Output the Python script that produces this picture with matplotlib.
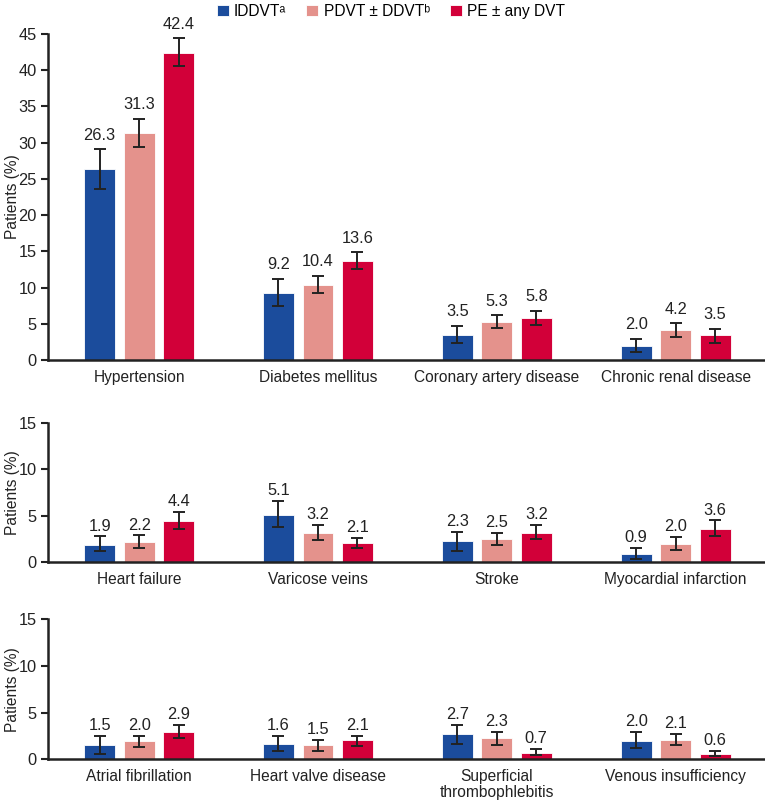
import numpy as np
import matplotlib.pyplot as plt

plt.rcParams['font.family'] = ['Liberation Sans', 'DejaVu Sans']

series_names = ["IDDVTᵃ", "PDVT ± DDVTᵇ", "PE ± any DVT"]
colors = ["#1B4C9C", "#E4928C", "#D20039"]

# panel 1
cats_1 = ["Hypertension", "Diabetes mellitus", "Coronary artery disease", "Chronic renal disease"]
vals_1 = [[26.3, 9.2, 3.5, 2.0], [31.3, 10.4, 5.3, 4.2], [42.4, 13.6, 5.8, 3.5]]
lo_1 = [[23.6, 7.5, 2.4, 1.1], [29.4, 9.2, 4.4, 3.2], [40.6, 12.5, 4.8, 2.4]]
hi_1 = [[29.1, 11.2, 4.7, 2.9], [33.3, 11.6, 6.2, 5.1], [44.4, 14.9, 6.8, 4.3]]

# panel 2
cats_2 = ["Heart failure", "Varicose veins", "Stroke", "Myocardial infarction"]
vals_2 = [[1.9, 5.1, 2.3, 0.9], [2.2, 3.2, 2.5, 2.0], [4.4, 2.1, 3.2, 3.6]]
lo_2 = [[1.2, 3.8, 1.25, 0.4], [1.6, 2.4, 1.9, 1.3], [3.6, 1.5, 2.5, 2.8]]
hi_2 = [[2.8, 6.6, 3.3, 1.6], [2.9, 4.0, 3.2, 2.7], [5.4, 2.6, 4.0, 4.5]]

# panel 3
cats_3 = ["Atrial fibrillation", "Heart valve disease", "Superficial\nthrombophlebitis", "Venous insufficiency"]
vals_3 = [[1.5, 1.6, 2.7, 2.0], [2.0, 1.5, 2.3, 2.1], [2.9, 2.1, 0.7, 0.6]]
lo_3 = [[0.6, 0.9, 1.6, 1.2], [1.35, 0.9, 1.5, 1.5], [2.25, 1.45, 0.4, 0.3]]
hi_3 = [[2.5, 2.5, 3.7, 2.9], [2.5, 2.1, 2.9, 2.7], [3.7, 2.5, 1.1, 0.9]]

fig = plt.figure(figsize=(7.65, 8.0), dpi=100)
ax1 = fig.add_axes([0.0627, 0.55, 0.9373, 0.4075])
ax2 = fig.add_axes([0.0627, 0.297, 0.9373, 0.1746])
ax3 = fig.add_axes([0.0627, 0.051, 0.9373, 0.175])

width = 0.173
offset = 0.221
fs = 11.2
txt = "#222222"

def draw_panel(ax, cats, vals, lo, hi, ymax, step):
    x = np.arange(len(cats))
    for i in range(3):
        v = np.array(vals[i])
        yerr = [v - np.array(lo[i]), np.array(hi[i]) - v]
        pos = x + (i - 1) * offset
        ax.bar(pos, v, width, color=colors[i], edgecolor="white", linewidth=0.6,
               label=series_names[i], zorder=2)
        ax.errorbar(pos, v, yerr=yerr, fmt="none", ecolor=txt, elinewidth=1.4,
                    capsize=4, capthick=1.4, zorder=3)
        for px, val, top in zip(pos, v, hi[i]):
            ax.text(px, top + ymax * 0.02, f"{val:.1f}", ha="center", va="bottom",
                    fontsize=fs + 0.6, color=txt)
    ax.set_xlim(-0.51, 3.5)
    ax.set_ylim(0, ymax)
    ax.set_yticks(np.arange(0, ymax + 0.1, step))
    ax.set_xticks(x)
    ax.set_xticklabels(cats, fontsize=fs, color=txt, va="top", linespacing=1.1)
    ax.tick_params(axis="x", length=0, pad=7)
    ax.tick_params(axis="y", labelsize=fs + 0.6, width=1.5, length=5, colors=txt, pad=3)
    ax.spines["top"].set_visible(False)
    ax.spines["right"].set_visible(False)
    for side in ["left", "bottom"]:
        ax.spines[side].set_linewidth(1.8)
        ax.spines[side].set_color(txt)
    ax.set_ylabel("Patients (%)", fontsize=fs, color=txt)
    ax.yaxis.set_label_coords(-0.039, 0.5)

draw_panel(ax1, cats_1, vals_1, lo_1, hi_1, 45, 5)
draw_panel(ax2, cats_2, vals_2, lo_2, hi_2, 15, 5)
draw_panel(ax3, cats_3, vals_3, lo_3, hi_3, 15, 5)

handles, labels = ax1.get_legend_handles_labels()
fig.legend(handles, labels, loc="center", bbox_to_anchor=(0.511, 0.986), ncol=3,
           frameon=False, fontsize=fs, handlelength=0.75, handleheight=0.75,
           handletextpad=0.35, columnspacing=1.3, borderpad=0.1)

fig.savefig("out.png", dpi=100)
